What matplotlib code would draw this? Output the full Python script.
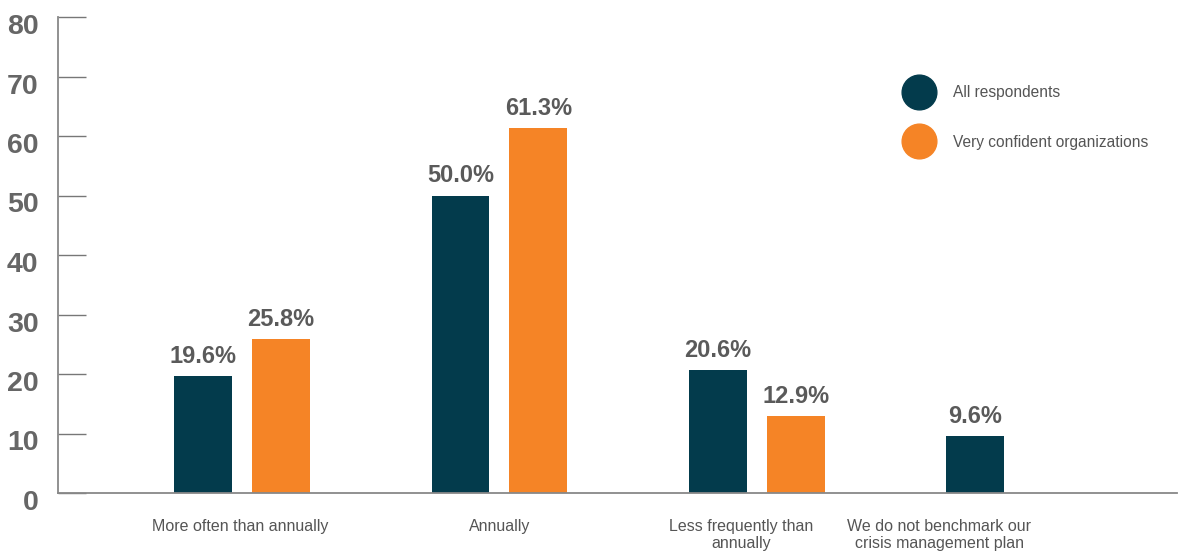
import matplotlib
matplotlib.use("Agg")
import matplotlib.pyplot as plt
import matplotlib.transforms as mtransforms
from matplotlib.lines import Line2D
import numpy as np

categories = ["More often than annually", "Annually",
              "Less frequently than\nannually", "We do not benchmark our\ncrisis management plan"]
all_resp = [19.6, 50.0, 20.6, 9.6]
very_conf = [25.8, 61.3, 12.9, None]
series_names = ["All respondents", "Very confident organizations"]

DARK = "#033b4c"
ORANGE = "#f58426"
GREY = "#666666"

plt.rcParams['font.family'] = ['Liberation Sans Narrow', 'Liberation Sans', 'DejaVu Sans']

fig = plt.figure(figsize=(11.79, 5.52), dpi=100)
ax = fig.add_axes([58 / 1179, 59 / 552, 1119 / 1179, 476 / 552])

x = np.arange(len(categories))
w = 0.225
off = 0.151
bold = ['Liberation Sans', 'DejaVu Sans']

for i, v in enumerate(all_resp):
    ax.bar(x[i] - off, v, w, color=DARK)
    ax.text(x[i] - off, v + 1.4, f"{v:.1f}%", ha="center", va="bottom",
            fontsize=17, fontweight="bold", color="#5a5a5a", family=bold)
for i, v in enumerate(very_conf):
    if v is None:
        continue
    ax.bar(x[i] + off, v, w, color=ORANGE)
    ax.text(x[i] + off, v + 1.4, f"{v:.1f}%", ha="center", va="bottom",
            fontsize=17, fontweight="bold", color="#5a5a5a", family=bold)

ax.set_xlim(-0.715, 3.633)
ax.set_ylim(0, 80)
ax.set_yticks(range(0, 81, 10))
ax.tick_params(axis="y", direction="in", length=20, width=1, color="#777777",
               labelsize=20.5, labelcolor=GREY, pad=14)
shift = mtransforms.ScaledTranslation(0, -7 / 100, fig.dpi_scale_trans)
for lab in ax.get_yticklabels():
    lab.set_fontweight("bold")
    lab.set_family(bold)
    lab.set_transform(lab.get_transform() + shift)

label_pos = [-0.008, 1.0, 1.94, 2.71]
ax.set_xticks(label_pos)
ax.set_xticklabels(categories, fontsize=11.5, color="#555555", linespacing=1.15)
ax.tick_params(axis="x", length=0, pad=19)

for s in ["top", "right"]:
    ax.spines[s].set_visible(False)
for s in ["left", "bottom"]:
    ax.spines[s].set_color("#888888")
    ax.spines[s].set_linewidth(1.3)

handles = [Line2D([], [], marker="o", linestyle="", markersize=25, color=c)
           for c in (DARK, ORANGE)]
fig.legend(handles, series_names, loc="upper left", bbox_to_anchor=(895 / 1179, 1 - 73 / 552),
           frameon=False, fontsize=11.2, labelcolor="#555555", handletextpad=1.4,
           labelspacing=2.2, handlelength=1.5, borderpad=0.3)

fig.savefig("out.png", dpi=100)
